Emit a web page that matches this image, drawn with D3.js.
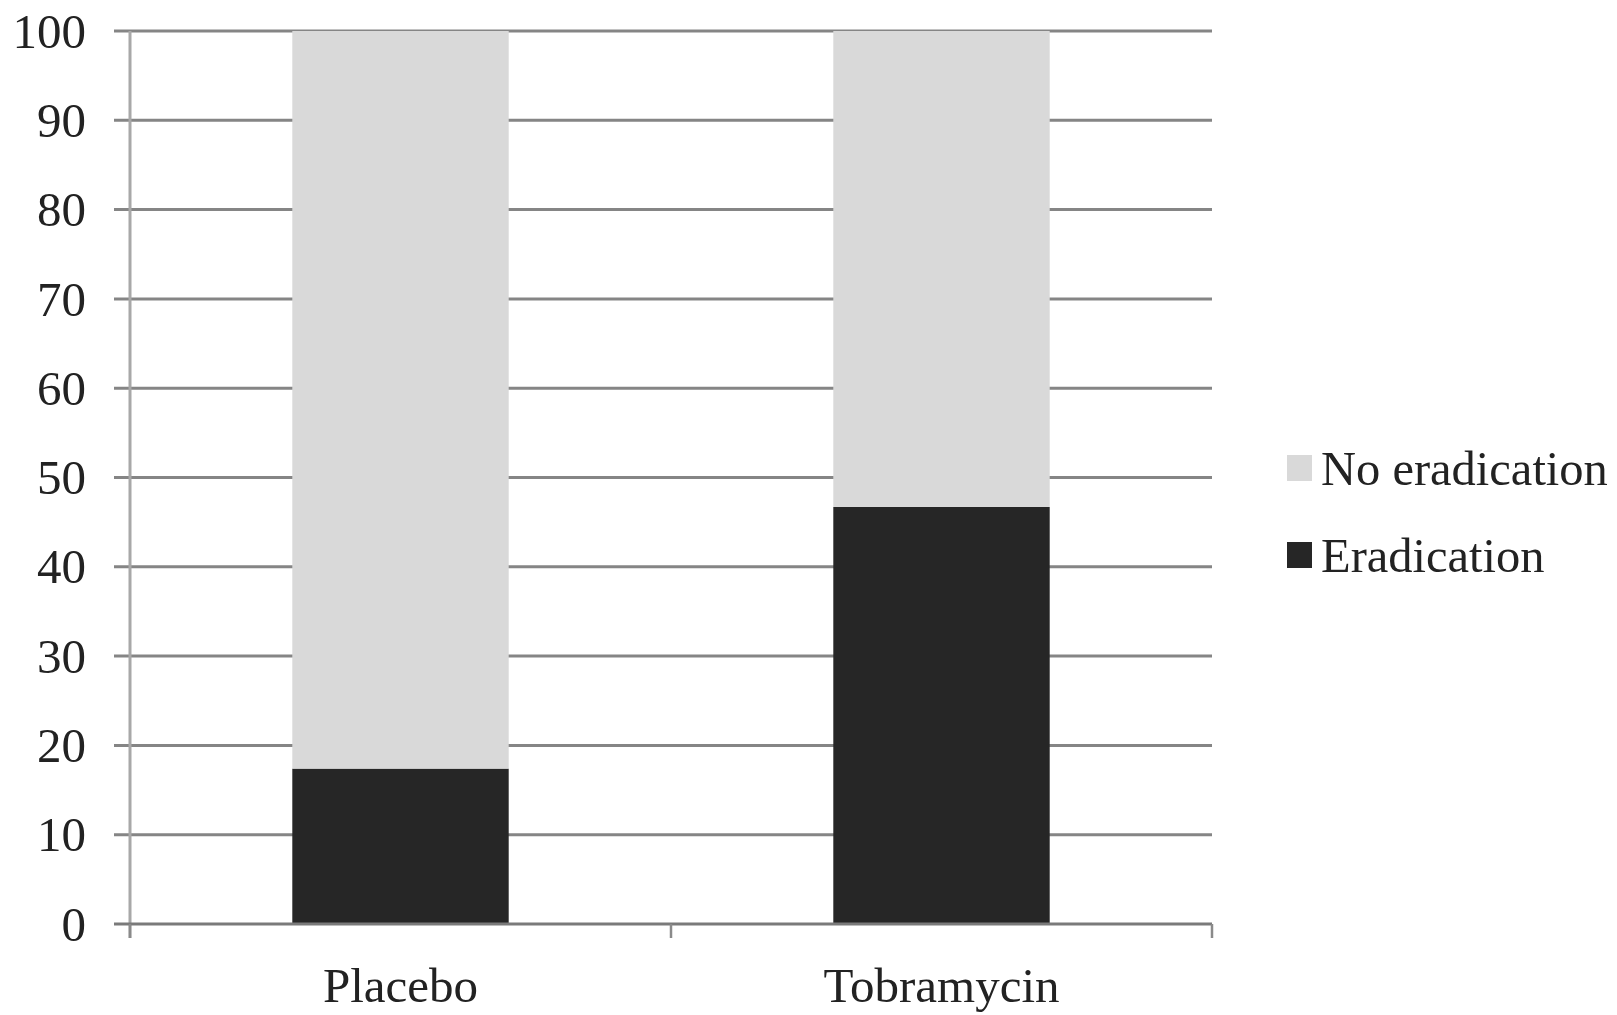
<!DOCTYPE html>
<html>
<head>
<meta charset="utf-8">
<script src="https://cdn.jsdelivr.net/npm/d3@7"></script>
<style>
  html, body { margin: 0; padding: 0; background: #fff; }
  svg { display: block; }
  text { font-family: "Liberation Serif", "DejaVu Serif", serif; fill: #222; }
</style>
</head>
<body>
<svg id="chart" width="1617" height="1015"></svg>
<script>
const categories = ["Placebo", "Tobramycin"];
const eradication = [17.4, 46.7];
const noEradication = [82.6, 53.3];
const seriesNames = ["No eradication", "Eradication"];
const yTicks = [0, 10, 20, 30, 40, 50, 60, 70, 80, 90, 100];

const colors = { "Eradication": "#262626", "No eradication": "#d9d9d9" };

const svg = d3.select("#chart");
const mLeft = 130, mRight = 1212, mTop = 31, mBottom = 924;

const x = d3.scaleBand().domain(categories).range([mLeft, mRight]).paddingInner(0.6).paddingOuter(0.3);
const y = d3.scaleLinear().domain([0, 100]).range([mBottom, mTop]);

// gridlines
svg.append("g").selectAll("line").data(yTicks.filter(d => d > 0)).join("line")
  .attr("x1", mLeft - 16).attr("x2", mRight)
  .attr("y1", d => y(d)).attr("y2", d => y(d))
  .attr("stroke", "#858585").attr("stroke-width", 3);

// stacked bars
const rows = categories.map((c, i) => ({ cat: c, "Eradication": eradication[i], "No eradication": noEradication[i] }));
const stack = d3.stack().keys(["Eradication", "No eradication"])(rows);
svg.append("g").selectAll("g").data(stack).join("g")
  .attr("fill", d => colors[d.key])
  .selectAll("rect").data(d => d).join("rect")
  .attr("x", d => x(d.data.cat))
  .attr("width", x.bandwidth())
  .attr("y", d => y(d[1]))
  .attr("height", d => y(d[0]) - y(d[1]));

// y axis line
svg.append("line").attr("x1", mLeft).attr("x2", mLeft).attr("y1", mTop).attr("y2", mBottom + 14)
  .attr("stroke", "#a8a8a8").attr("stroke-width", 3);

// x axis line with ticks
svg.append("line").attr("x1", mLeft - 16).attr("x2", mRight).attr("y1", mBottom).attr("y2", mBottom)
  .attr("stroke", "#7a7a7a").attr("stroke-width", 3);
const xTickPos = [mLeft, mLeft + (mRight - mLeft) / 2, mRight];
svg.append("g").selectAll("line").data(xTickPos).join("line")
  .attr("x1", d => d).attr("x2", d => d).attr("y1", mBottom).attr("y2", mBottom + 14)
  .attr("stroke", "#8a8a8a").attr("stroke-width", 2.5);

// y tick labels
svg.append("g").selectAll("text").data(yTicks).join("text")
  .attr("x", 86).attr("y", d => y(d)).attr("dy", "0.34em")
  .attr("text-anchor", "end").attr("font-size", 49)
  .text(d => d);

// category labels
svg.append("g").selectAll("text").data(categories).join("text")
  .attr("x", d => x(d) + x.bandwidth() / 2).attr("y", 1002)
  .attr("text-anchor", "middle").attr("font-size", 49)
  .text(d => d);

// legend
const legendY = [468, 555];
const lg = svg.append("g").selectAll("g").data(seriesNames).join("g")
  .attr("transform", (d, i) => `translate(1287,${legendY[i]})`);
lg.append("rect").attr("x", 0).attr("y", -13).attr("width", 25).attr("height", 26)
  .attr("fill", d => colors[d]);
lg.append("text").attr("x", 34).attr("y", 0).attr("dy", "0.34em")
  .attr("font-size", 48.5).text(d => d);
</script>
</body>
</html>
